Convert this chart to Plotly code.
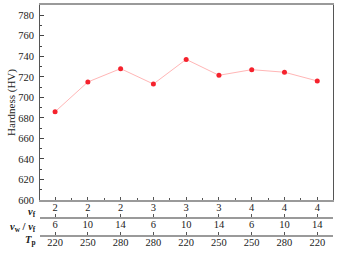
import plotly.graph_objects as go

hardness = [686, 715, 728, 713, 737, 721.5, 727, 724.5, 716]
f_vals = ["2", "2", "2", "3", "3", "3", "4", "4", "4"]
ratio_vals = ["6", "10", "14", "6", "10", "14", "6", "10", "14"]
tp_vals = ["220", "250", "280", "280", "220", "250", "250", "280", "220"]
y_ticks = [600, 620, 640, 660, 680, 700, 720, 740, 760, 780]

idx = list(range(len(hardness)))
FONT = "Liberation Serif"
GRAY = "#9a9a9a"

fig = go.Figure()
fig.add_trace(go.Scatter(
    x=idx, y=hardness, mode="lines+markers",
    line=dict(color="#ffb6b6", width=1),
    marker=dict(color="#f5222d", size=5),
    showlegend=False, hoverinfo="skip", cliponaxis=False,
))
# invisible traces to host the extra table axes
for xa in ("x2", "x3"):
    fig.add_trace(go.Scatter(x=idx, y=hardness, xaxis=xa, yaxis="y",
                             mode="markers", marker=dict(opacity=0),
                             showlegend=False, hoverinfo="skip"))

H = 254 - 5 - 6
def py(pix):
    return (254 - 6 - pix) / H

common = dict(
    range=[-0.46, 8.48], tickmode="array", tickvals=idx,
    ticks="inside", ticklen=3, tickcolor="#555", automargin=False,
    showgrid=False, zeroline=False, ticklabelstandoff=-4,
    tickfont=dict(family=FONT, size=10.5, color="#222"),
    linecolor=GRAY, linewidth=2, showline=True,
)
fig.update_layout(
    width=340, height=254,
    margin=dict(l=40, r=7, t=5, b=6),
    paper_bgcolor="white", plot_bgcolor="white",
    xaxis=dict(**common, ticktext=f_vals, mirror=True,
               minor=dict(tickmode="linear", tick0=0, dtick=0.5,
                          ticks="inside", ticklen=2, tickcolor="#555")),
    xaxis2=dict(**common, ticktext=ratio_vals, overlaying="x", matches="x",
                anchor="free", position=py(218)),
    xaxis3=dict(**common, ticktext=tp_vals, overlaying="x", matches="x",
                anchor="free", position=py(236)),
    yaxis=dict(
        domain=[py(200), 1], range=[600, 790], automargin=False,
        tickmode="array", tickvals=y_ticks,
        ticks="inside", ticklen=4, tickcolor="#444", ticklabelstandoff=3,
        minor=dict(tickmode="linear", tick0=600, dtick=10,
                   ticks="inside", ticklen=2, tickcolor="#444"),
        showline=True, linecolor="#555", linewidth=1, mirror=True,
        showgrid=False, zeroline=False,
        tickfont=dict(family=FONT, size=10.5, color="#222"),
        title=dict(text="Hardness (HV)", standoff=0,
                   font=dict(family=FONT, size=11, color="#222")),
    ),
)

lab_font = dict(family=FONT, size=10.5, color="#222")
fig.add_annotation(text="<b><i>v</i><sub>f</sub></b>", xref="paper", yref="paper",
                   x=-0.008, y=py(212), xanchor="right", yanchor="middle",
                   showarrow=False, font=lab_font)
fig.add_annotation(text="<b><i>v</i><sub>w</sub> / <i>v</i><sub>f</sub></b>",
                   xref="paper", yref="paper",
                   x=-0.008, y=py(227), xanchor="right", yanchor="middle",
                   showarrow=False, font=lab_font)
fig.add_annotation(text="<b><i>T</i><sub>p</sub></b>", xref="paper", yref="paper",
                   x=-0.008, y=py(240), xanchor="right", yanchor="middle",
                   showarrow=False, font=lab_font)

fig.write_html("out.html", config={"displayModeBar": False},
               post_script="document.body.style.margin='0';document.body.style.overflow='hidden';")
